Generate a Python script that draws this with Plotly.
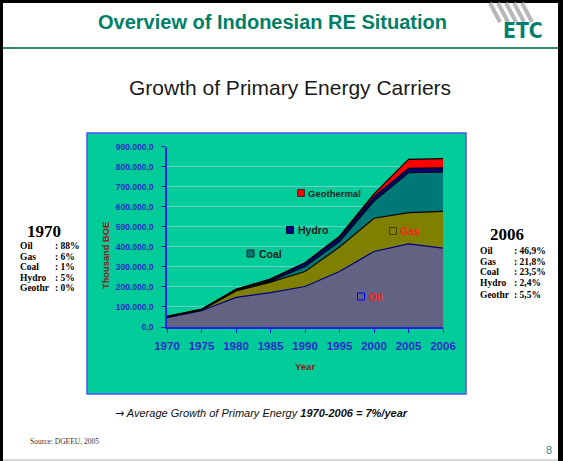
import plotly.graph_objects as go

# ---- data (thousand BOE) ----
years = ["1970", "1975", "1980", "1985", "1990", "1995", "2000", "2005", "2006"]
oil = [47, 81, 148, 172, 202, 277, 377, 415, 394]
gas = [3, 3, 32, 52, 75, 122, 166, 156, 183]
coal = [0.5, 1, 3, 5, 25, 28, 86, 199, 197]
hydro = [2.7, 3, 5, 10, 17, 21, 22, 22, 20]
geothermal = [0, 0, 0, 0, 2, 5, 13, 45, 46]
y_ticks = [0, 100000, 200000, 300000, 400000, 500000, 600000, 700000, 800000, 900000]

share_1970 = [("Oil", ": 88%"), ("Gas", ": 6%"), ("Coal", ": 1%"), ("Hydro", ": 5%"), ("Geothr", ": 0%")]
share_2006 = [("Oil", ": 46,9%"), ("Gas", ": 21,8%"), ("Coal", ": 23,5%"), ("Hydro", ": 2,4%"), ("Geothr", ": 5,5%")]

W, H = 563, 461
def px(x):
    return x / W
def py(y):
    return 1 - y / H

SANS = "Liberation Sans, Arial, sans-serif"
SERIF = "Liberation Serif, Times New Roman, serif"

series = [
    ("Oil", oil, "#626282", "#000080"),
    ("Gas", gas, "#808000", "#000000"),
    ("Coal", coal, "#007878", "#000000"),
    ("Hydro", hydro, "#000080", "#000000"),
    ("Geothermal", geothermal, "#FF0000", "#000000"),
]

fig = go.Figure()
for name, vals, fillc, linec in series:
    fig.add_trace(go.Scatter(
        x=years, y=[v * 1000 for v in vals], name=name,
        mode="lines", stackgroup="one",
        line=dict(color=linec, width=1.2),
        fillcolor=fillc, hoverinfo="skip",
    ))

def fmt(v):
    s = f"{v:,.1f}"
    return s.replace(",", "X").replace(".", ",").replace("X", ".")

shapes = []
# slide frame
shapes.append(dict(type="rect", xref="paper", yref="paper", x0=px(0), x1=px(3), y0=0, y1=1,
                   fillcolor="black", line=dict(width=0), layer="below"))
shapes.append(dict(type="rect", xref="paper", yref="paper", x0=0, x1=1, y0=py(3), y1=1,
                   fillcolor="black", line=dict(width=0), layer="below"))
shapes.append(dict(type="rect", xref="paper", yref="paper", x0=px(558), x1=1, y0=0, y1=1,
                   fillcolor="black", line=dict(width=0), layer="below"))
shapes.append(dict(type="line", xref="paper", yref="paper", x0=px(3), x1=px(558), y0=py(460), y1=py(460),
                   line=dict(color="#B0B0B0", width=1), layer="below"))
# title rule
shapes.append(dict(type="line", xref="paper", yref="paper", x0=px(3), x1=px(558), y0=py(48), y1=py(48),
                   line=dict(color="#2E8B73", width=2), layer="below"))
# logo stripes
for i in range(5):
    x0 = 490 + i * 8
    shapes.append(dict(type="line", xref="paper", yref="paper",
                       x0=px(x0), y0=py(3), x1=px(x0 + 10), y1=py(22),
                       line=dict(color="#B8B8B8", width=4), layer="below"))
# green chart box
shapes.append(dict(type="rect", xref="paper", yref="paper", x0=px(87), x1=px(466), y0=py(394), y1=py(133),
                   fillcolor="#00CC99", line=dict(color="#5050FF", width=1.5), layer="below"))

# label squares
def square(cx, cy, fill, line):
    shapes.append(dict(type="rect", xref="paper", yref="paper",
                       x0=px(cx - 3.5), x1=px(cx + 3.5), y0=py(cy + 3.5), y1=py(cy - 3.5),
                       fillcolor=fill, line=dict(color=line, width=1)))

square(301, 193, "#FF0000", "#333333")
square(290, 230, "#000080", "#000030")
square(250.5, 253.5, "#007878", "#202020")
square(393, 231, "rgba(0,0,0,0)", "#404000")
square(361, 296.5, "rgba(0,0,0,0)", "#0000FF")

ann = []
def text(x, y, s, size, color, font=SANS, xanchor="left", yanchor="middle"):
    ann.append(dict(x=px(x), y=py(y), xref="paper", yref="paper", text=s, showarrow=False,
                    xanchor=xanchor, yanchor=yanchor, font=dict(size=size, color=color, family=font)))

text(272, 22, "<b>Overview of Indonesian RE Situation</b>", 20, "#007F66", xanchor="center")
text(523, 31, "<b>ETC</b>", 21, "#007F70",
     font="DejaVu Sans Condensed, Liberation Sans Narrow, Liberation Sans, sans-serif", xanchor="center")
text(290, 88, "Growth of Primary Energy Carriers", 21, "#1A1A1A", xanchor="center")

# in-chart labels
text(306, 193, "<b>Geothermal</b>", 9.5, "#262626")
text(296, 230, "<b>Hydro</b>", 10.5, "#202020")
text(257, 254, "<b>Coal</b>", 10.5, "#202020")
text(398, 231, "<b>Gas</b>", 10.5, "#FF2020")
text(367, 297, "<b>Oil</b>", 10.5, "#FF2020")

# side blocks
text(44, 231, "<b>1970</b>", 17, "#000000", font=SERIF, xanchor="center")
for i, (lab, val) in enumerate(share_1970):
    y = 246 + i * 10.5
    text(18, y, f"<b>{lab}</b>", 9.5, "#000000", font=SERIF)
    text(53, y, f"<b>{val}</b>", 9.5, "#000000", font=SERIF)

text(507, 234, "<b>2006</b>", 17, "#000000", font=SERIF, xanchor="center")
for i, (lab, val) in enumerate(share_2006):
    y = 251 + i * 10.5 + (2 if i == 4 else 0)
    text(478, y, f"<b>{lab}</b>", 9.5, "#000000", font=SERIF)
    text(512, y, f"<b>{val}</b>", 9.5, "#000000", font=SERIF)

# footer
text(113, 413, "<span style='font-family:DejaVu Sans'>\u2192</span>"
     "<i> Average Growth of Primary Energy <b>1970-2006 = 7%/year</b></i>", 11, "#111111")
text(28, 441, "Source: DGEEU, 2005", 7.5, "#333333", font=SERIF)
text(549, 450, "8", 11, "#2E8B8B", xanchor="center")

# axis titles
text(305, 366, "<b>Year</b>", 9.5, "#8B1A1A", xanchor="center")
ann.append(dict(x=px(106), y=py(256), xref="paper", yref="paper", text="<b>Thousand BOE</b>",
                showarrow=False, textangle=-90, xanchor="center", yanchor="middle",
                font=dict(size=9.3, color="#8B1A1A", family=SANS)))

fig.update_layout(
    template="none",
    width=W, height=H, autosize=False,
    margin=dict(l=0, r=0, t=0, b=0, pad=0, autoexpand=False),
    paper_bgcolor="white", plot_bgcolor="rgba(0,0,0,0)",
    showlegend=False,
    shapes=shapes, annotations=ann,
    xaxis=dict(
        domain=[px(167), px(443)], type="category", range=[0, len(years) - 1],
        automargin=False,
        showgrid=False, showline=True, linecolor="#2020E0", linewidth=1.5,
        ticks="outside", ticklen=4, tickcolor="#2020E0", ticklabelstandoff=3,
        tickfont=dict(size=11.5, color="#2A2ACC", family=SANS, weight="bold"),
        zeroline=False, fixedrange=True,
    ),
    yaxis=dict(
        domain=[py(327), py(146.7)], range=[0, 900000],
        automargin=False,
        tickvals=y_ticks, ticktext=[fmt(v) for v in y_ticks],
        showgrid=True, gridcolor="#66CCCC", gridwidth=1,
        showline=True, linecolor="#2020E0", linewidth=1.5,
        ticks="outside", ticklen=4, tickcolor="#2020E0", ticklabelstandoff=6,
        tickfont=dict(size=8.5, color="#2A2ACC", family=SANS, weight="bold"),
        zeroline=False, fixedrange=True,
    ),
)

fig.write_html("out.html", config={"displayModeBar": False},
               post_script="document.body.style.margin='0';document.body.style.overflow='hidden';")
